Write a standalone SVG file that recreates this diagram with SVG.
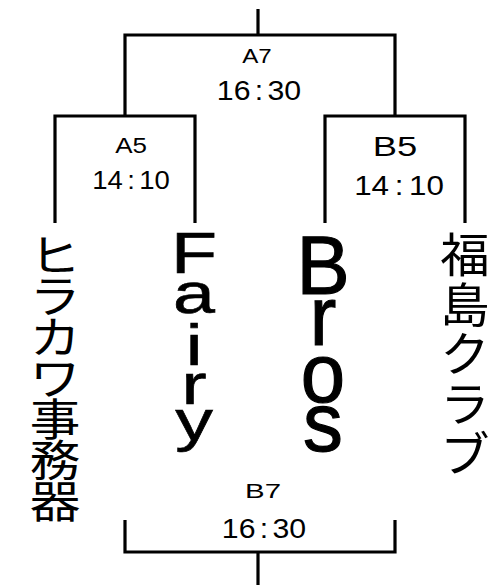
<svg xmlns="http://www.w3.org/2000/svg" width="497" height="585" viewBox="0 0 497 585">
  <style>
    .ln { fill: none; stroke: #000; stroke-width: 3.2; stroke-linejoin: miter; stroke-linecap: butt; }
    .lat { font-family: "Liberation Sans", Arial, sans-serif; fill: #000; text-anchor: middle; }
    .jp { font-family: "Noto Sans CJK JP", "Noto Sans CJK SC", sans-serif; fill: #000; text-anchor: middle; }
  </style>
  <rect width="497" height="585" fill="#fff"/>
  <g id="connectors">
    <path class="ln" d="M258,9 V35"/>
    <path class="ln" d="M125,116 V35 H395 V116"/>
    <path class="ln" d="M55,223 V116 H195 V223"/>
    <path class="ln" d="M325,223 V116 H465 V223"/>
    <path class="ln" d="M125,520 V552 H395 V520"/>
    <path class="ln" d="M258,552 V585"/>
  </g>
  <g id="match-A7">
    <g transform="translate(257,63) scale(1.15,1)"><text class="lat" x="0" y="0" font-size="21">A7</text></g>
    <g transform="translate(259,100) scale(1.08,1)"><text class="lat" x="0" y="0" font-size="28">16<tspan dx="4">:</tspan><tspan dx="4">30</tspan></text></g>
  </g>
  <g id="match-A5">
    <g transform="translate(131,153) scale(1.18,1)"><text class="lat" x="0" y="0" font-size="22">A5</text></g>
    <g transform="translate(131,189) scale(1.1,1)"><text class="lat" x="0" y="0" font-size="25">14<tspan dx="4">:</tspan><tspan dx="4">10</tspan></text></g>
  </g>
  <g id="match-B5">
    <g transform="translate(395,156) scale(1.3,1)"><text class="lat" x="0" y="0" font-size="28">B5</text></g>
    <g transform="translate(399,195) scale(1.12,1)"><text class="lat" x="0" y="0" font-size="28">14<tspan dx="5">:</tspan><tspan dx="5">10</tspan></text></g>
  </g>
  <g id="match-B7">
    <g transform="translate(263,498) scale(1.4,1)"><text class="lat" x="0" y="0" font-size="21">B7</text></g>
    <g transform="translate(264,538) scale(1.08,1)"><text class="lat" x="0" y="0" font-size="28">16<tspan dx="4">:</tspan><tspan dx="4">30</tspan></text></g>
  </g>
  <g id="team-hirakawa" transform="translate(55,0) scale(1.15,1)">
    <text class="jp" font-size="44"><tspan x="0" y="271.7">ヒ</tspan><tspan x="0" y="312.7">ラ</tspan><tspan x="0" y="353.7">カ</tspan><tspan x="0" y="394.7">ワ</tspan><tspan x="0" y="435.7">事</tspan><tspan x="0" y="476.7">務</tspan><tspan x="0" y="517.7">器</tspan></text>
  </g>
  <g id="team-fairy" transform="translate(194,0) scale(1.3,1)">
    <text class="lat" font-size="58" stroke="#000" stroke-width="0.6"><tspan x="0" y="273">F</tspan><tspan x="0" y="313">a</tspan><tspan x="0" y="365">i</tspan><tspan x="0" y="404">r</tspan><tspan x="0" y="440">y</tspan></text>
  </g>
  <g id="team-bros" transform="translate(323,0) scale(0.95,1)">
    <text class="lat" font-size="84" stroke="#000" stroke-width="1.2"><tspan x="0" y="294">B</tspan><tspan x="0" y="345">r</tspan><tspan x="0" y="402">o</tspan><tspan x="0" y="451">s</tspan></text>
  </g>
  <g id="team-fukushima" transform="translate(465,0) scale(1.05,1)">
    <text class="jp" font-size="47"><tspan x="0" y="271.9">福</tspan><tspan x="0" y="321.7">島</tspan><tspan x="0" y="371.4">ク</tspan><tspan x="0" y="421.2">ラ</tspan><tspan x="0" y="470.9">ブ</tspan></text>
  </g>
</svg>
